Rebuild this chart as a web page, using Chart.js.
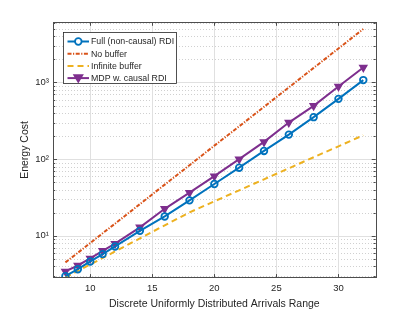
<!DOCTYPE html>
<html>
<head>
<meta charset="utf-8">
<script src="https://cdn.jsdelivr.net/npm/chart.js@4/dist/chart.umd.min.js"></script>
<style>
  html, body { margin: 0; padding: 0; background: #fff; }
  #wrap { width: 415px; height: 312px; position: relative; }
</style>
</head>
<body>
<div id="wrap"><canvas id="chart"></canvas></div>
<script>
// Data
const arrivalsRange = [8, 9, 10, 11, 12, 14, 16, 18, 20, 22, 24, 26, 28, 30, 32];
const fullRdi = [2.97, 3.67, 4.63, 5.77, 7.26, 11.6, 17.9, 29, 47.4, 77.4, 128, 209, 353, 612, 1075];
const noBuffer = [4.5, 6.0, 8.05, 10.8, 14.4, 25.9, 46.5, 83.4, 150, 268, 481, 863, 1550, 2780, 4990];
const infiniteBuffer = [2.86, 3.48, 4.23, 5.14, 6.25, 9.25, 13.7, 20.2, 28.2, 39.2, 54.6, 76, 106, 147, 205];
const mdpCausal = [3.43, 4.1, 5.07, 6.37, 7.9, 12.9, 22.5, 36.5, 60, 100, 168, 300, 496, 887, 1570];

const xTicks = [10, 15, 20, 25, 30];
const yMajorTicks = [10, 100, 1000];
const yTickLabels = { 10: '10\u00B9', 100: '10\u00B2', 1000: '10\u00B3' };
const yMinorTicks = [3, 4, 5, 6, 7, 8, 9, 20, 30, 40, 50, 60, 70, 80, 90,
                     200, 300, 400, 500, 600, 700, 800, 900, 2000, 3000, 4000, 5000, 6000];

const BLUE = '#0072BD', ORANGE = '#D95319', YELLOW = '#EDB120', PURPLE = '#7E2F8E';
const TEXT = '#262626';
const FONT = 'Liberation Sans, Arial, Helvetica, sans-serif';

const toPoints = ys => arrivalsRange.map((x, i) => ({ x: x, y: ys[i] }));

const legendItems = [
    { label: 'Full (non-causal) RDI', color: BLUE, dash: [], marker: 'circle' },
    { label: 'No buffer', color: ORANGE, dash: [4, 1.5, 1.2, 1.5], marker: null },
    { label: 'Infinite buffer', color: YELLOW, dash: [6, 4], marker: null },
    { label: 'MDP w. causal RDI', color: PURPLE, dash: [], marker: 'triangleDown' }
];

function drawMarker(ctx, type, x, y, color) {
    ctx.save();
    ctx.setLineDash([]);
    ctx.strokeStyle = color;
    ctx.lineWidth = 1.8;
    ctx.beginPath();
    if (type === 'circle') {
        ctx.arc(x, y, 3.3, 0, Math.PI * 2);
        ctx.fillStyle = '#fff';
        ctx.fill();
        ctx.stroke();
    } else if (type === 'triangleDown') {
        ctx.moveTo(x - 4, y - 3);
        ctx.lineTo(x + 4, y - 3);
        ctx.lineTo(x, y + 3.6);
        ctx.closePath();
        ctx.fillStyle = color;
        ctx.fill();
        ctx.stroke();
    }
    ctx.restore();
}

// MATLAB-like grid, box, inner ticks and legend
const matlabAxes = {
    id: 'matlabAxes',
    beforeDatasetsDraw(chart) {
        const { ctx, chartArea: { left, right, top, bottom }, scales: { x, y } } = chart;
        ctx.save();
        ctx.lineWidth = 0.8;
        ctx.strokeStyle = '#c4c4c4';
        ctx.setLineDash([1, 2]);
        yMinorTicks.forEach(v => {
            const py = Math.round(y.getPixelForValue(v)) + 0.5;
            ctx.beginPath(); ctx.moveTo(left, py); ctx.lineTo(right, py); ctx.stroke();
        });
        ctx.setLineDash([]);
        ctx.lineWidth = 1;
        ctx.strokeStyle = '#e0e0e0';
        yMajorTicks.forEach(v => {
            const py = Math.round(y.getPixelForValue(v)) + 0.5;
            ctx.beginPath(); ctx.moveTo(left, py); ctx.lineTo(right, py); ctx.stroke();
        });
        xTicks.forEach(v => {
            const px = Math.round(x.getPixelForValue(v)) + 0.5;
            ctx.beginPath(); ctx.moveTo(px, top); ctx.lineTo(px, bottom); ctx.stroke();
        });
        ctx.restore();
    },
    afterDatasetsDraw(chart) {
        const { ctx, chartArea: { left, right, top, bottom }, scales: { x, y } } = chart;
        ctx.save();
        ctx.strokeStyle = '#4d4d4d';
        ctx.lineWidth = 1;
        ctx.strokeRect(Math.round(left) + 0.5, Math.round(top) + 0.5,
                       Math.round(right - left), Math.round(bottom - top));
        ctx.beginPath();
        xTicks.forEach(v => {
            const px = Math.round(x.getPixelForValue(v)) + 0.5;
            ctx.moveTo(px, bottom); ctx.lineTo(px, bottom - 3.5);
            ctx.moveTo(px, top); ctx.lineTo(px, top + 3.5);
        });
        yMajorTicks.forEach(v => {
            const py = Math.round(y.getPixelForValue(v)) + 0.5;
            ctx.moveTo(left, py); ctx.lineTo(left + 4, py);
            ctx.moveTo(right, py); ctx.lineTo(right - 4, py);
        });
        yMinorTicks.forEach(v => {
            const py = Math.round(y.getPixelForValue(v)) + 0.5;
            ctx.moveTo(left, py); ctx.lineTo(left + 2.2, py);
            ctx.moveTo(right, py); ctx.lineTo(right - 2.2, py);
        });
        ctx.stroke();

        // legend box
        const bx = 63.5, by = 32.5, bw = 113, bh = 51;
        ctx.fillStyle = '#fff';
        ctx.fillRect(bx, by, bw, bh);
        ctx.strokeStyle = '#262626';
        ctx.lineWidth = 0.8;
        ctx.strokeRect(bx, by, bw, bh);
        ctx.font = '8.8px ' + FONT;
        ctx.textBaseline = 'middle';
        ctx.fillStyle = TEXT;
        legendItems.forEach((item, i) => {
            const ly = 41.5 + i * 12.2;
            ctx.save();
            ctx.strokeStyle = item.color;
            ctx.lineWidth = 2;
            ctx.setLineDash(item.dash);
            ctx.beginPath(); ctx.moveTo(67.5, ly); ctx.lineTo(89, ly); ctx.stroke();
            ctx.restore();
            if (item.marker) drawMarker(ctx, item.marker, 78.3, ly, item.color);
            ctx.fillText(item.label, 91, ly + 0.5);
        });
        ctx.restore();
    }
};

new Chart(document.getElementById('chart'), {
    type: 'line',
    data: {
        datasets: [
            {
                label: 'Full (non-causal) RDI',
                data: toPoints(fullRdi),
                borderColor: BLUE,
                backgroundColor: 'rgba(255,255,255,0)',
                borderWidth: 2,
                pointStyle: 'circle',
                pointRadius: 3.3,
                pointBorderWidth: 1.8,
                pointBorderColor: BLUE,
                pointBackgroundColor: 'rgba(255,255,255,0)'
            },
            {
                label: 'No buffer',
                data: toPoints(noBuffer),
                borderColor: ORANGE,
                borderWidth: 2,
                borderDash: [4, 1.5, 1.2, 1.5],
                pointRadius: 0
            },
            {
                label: 'Infinite buffer',
                data: toPoints(infiniteBuffer),
                borderColor: YELLOW,
                borderWidth: 2,
                borderDash: [6, 4],
                pointRadius: 0
            },
            {
                label: 'MDP w. causal RDI',
                data: toPoints(mdpCausal),
                borderColor: PURPLE,
                backgroundColor: PURPLE,
                borderWidth: 2,
                pointStyle: 'triangle',
                pointRotation: 180,
                pointRadius: 4,
                pointBorderWidth: 1.5,
                pointBorderColor: PURPLE,
                pointBackgroundColor: PURPLE
            }
        ]
    },
    options: {
        responsive: true,
        maintainAspectRatio: false,
        animation: false,
        devicePixelRatio: 1,
        layout: { padding: { left: 15, right: 39.3, top: 22.3, bottom: 0 } },
        plugins: {
            legend: { display: false },
            tooltip: { enabled: false }
        },
        scales: {
            x: {
                type: 'linear',
                min: 7,
                max: 33,
                afterBuildTicks: scale => { scale.ticks = xTicks.map(v => ({ value: v })); },
                afterFit: scale => { scale.height = 34.4; },
                grid: { display: false, drawTicks: false },
                border: { display: false },
                ticks: {
                    padding: 5,
                    color: TEXT,
                    font: { family: FONT, size: 9.5 },
                    maxRotation: 0,
                    autoSkip: false,
                    callback: v => String(v)
                },
                title: {
                    display: true,
                    text: 'Discrete Uniformly Distributed Arrivals Range',
                    color: TEXT,
                    font: { family: FONT, size: 10.5 },
                    padding: { top: 0, bottom: 2 }
                }
            },
            y: {
                type: 'logarithmic',
                min: 2.85,
                max: 6100,
                afterBuildTicks: scale => { scale.ticks = yMajorTicks.map(v => ({ value: v })); },
                afterFit: scale => { scale.width = 38; },
                grid: { display: false, drawTicks: false },
                border: { display: false },
                ticks: {
                    padding: 4,
                    color: TEXT,
                    font: { family: FONT, size: 9.5 },
                    autoSkip: false,
                    callback: v => yTickLabels[v] || ''
                },
                title: {
                    display: true,
                    text: 'Energy Cost',
                    color: TEXT,
                    font: { family: FONT, size: 10.5 },
                    padding: { top: 4, bottom: 0 }
                }
            }
        }
    },
    plugins: [matlabAxes]
});
</script>
</body>
</html>
